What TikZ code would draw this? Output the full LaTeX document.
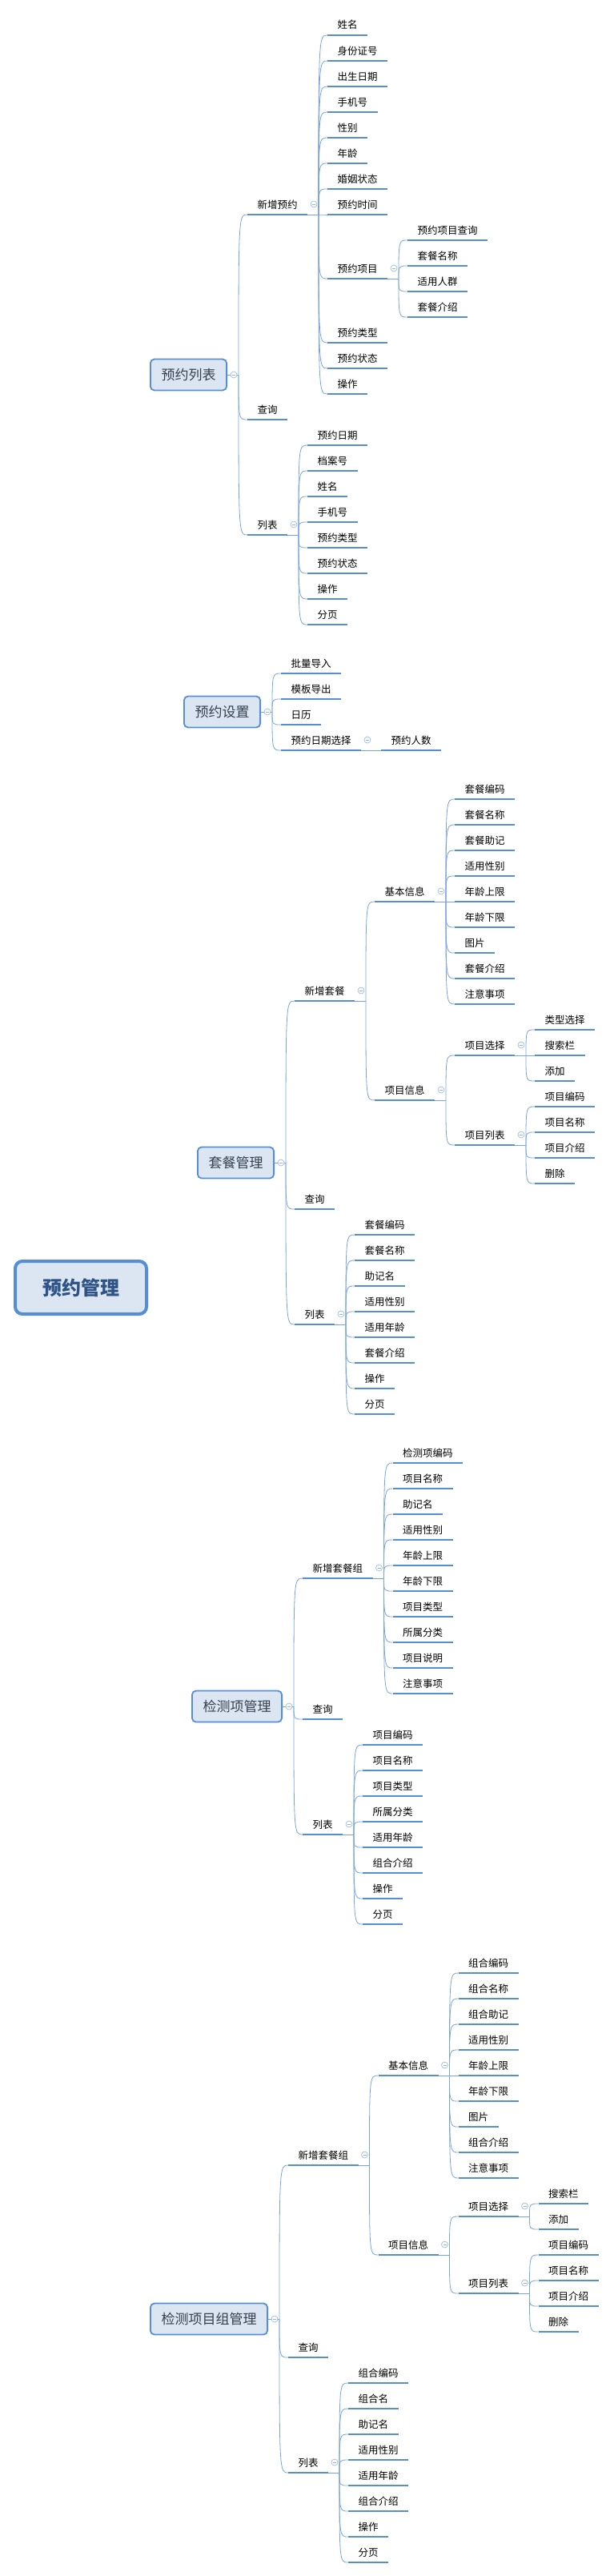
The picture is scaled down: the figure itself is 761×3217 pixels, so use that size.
\documentclass[tikz,border=0pt]{standalone}
\usepackage{fontspec}
\newfontfamily\cjk{Noto Sans CJK SC}
\usetikzlibrary{calc,backgrounds}

\definecolor{ublue}{HTML}{558ED5}
\definecolor{linkblue}{HTML}{79A4DA}
\definecolor{boxfill}{HTML}{DCE6F2}
\definecolor{rootblue}{HTML}{2E5386}
\definecolor{topictext}{HTML}{34404F}
\definecolor{foldblue}{HTML}{8FB4E3}

\tikzset{
  uline/.style = {draw=ublue, line width=2pt},
  conn/.style = {draw=linkblue, line width=0.8pt},
  trunk/.style = {draw=linkblue, line width=1.1pt},
  leaf/.style = {anchor=south west, font=\cjk\fontsize{12.5}{15}\selectfont,
    inner xsep=12.5pt, inner ysep=5pt, text height=10pt, text depth=3pt, outer sep=0pt,
    append after command={(\tikzlastnode.south west) edge[uline] (\tikzlastnode.south east)}},
  topicbox/.style = {anchor=west, draw=ublue, line width=1.8pt, fill=boxfill,
    rounded corners=5pt, font=\cjk\fontsize{17}{20}\selectfont, text=topictext,
    inner xsep=13.6pt, minimum height=39pt},
  centralbox/.style = {draw=ublue, line width=4pt, fill=boxfill, rounded corners=9pt,
    font=\cjk\bfseries\fontsize{24}{28}\selectfont, text=rootblue,
    minimum width=164pt, minimum height=66pt},
  foldmark/.style = {circle, draw=foldblue, fill=white, line width=0.6pt,
    minimum size=8pt, inner sep=0pt,
    path picture={\draw[foldblue, line width=0.6pt]
      ([xshift=2pt]path picture bounding box.west) -- ([xshift=-2pt]path picture bounding box.east);}}
}

% junction after an underlined item
\newcommand{\forkat}[1]{%
  \coordinate (#1j) at ($(#1.south east)+(14,0)$);
  \draw[conn] (#1.south east) -- (#1j);
  \node[foldmark] at ($(#1.south east)+(8,-13)$) {};}
% junction after a topic box
\newcommand{\forktopic}[1]{%
  \coordinate (#1j) at ($(#1.east)+(14,0)$);
  \draw[conn] (#1.east) -- (#1j);
  \node[foldmark] at ($(#1.east)+(8,0)$) {};}
\newcommand{\joinup}[2]{\draw[conn] (#1j) .. controls (#1j |- #2.south west) .. (#2.south west);}

\begin{document}
\begin{tikzpicture}[x=1pt, y=-1pt]
  \path[use as bounding box, fill=white] (0,0) rectangle (761,3217);

  \node[centralbox] (root) at (101,1608) {预约管理};

  \node[topicbox] (yylb) at (187,468) {预约列表};
  \node[topicbox] (yysz) at (229,889) {预约设置};
  \node[topicbox] (tcgl) at (246,1452) {套餐管理};
  \node[topicbox] (jcx) at (239,2131) {检测项管理};
  \node[topicbox] (jczh) at (187,2896) {检测项目组管理};

  \begin{scope}[on background layer]
    \draw[trunk] ([xshift=3pt]root.center) .. controls (106,900) and (165,468) .. (yylb.west);
    \draw[trunk] ([xshift=7pt]root.center) .. controls (112,1200) and (200,889) .. (yysz.west);
    \draw[trunk] ([xshift=14pt]root.center) .. controls (140,1530) and (185,1452) .. (tcgl.west);
    \draw[trunk] ([xshift=5pt]root.center) .. controls (115,1850) and (170,2131) .. (jcx.west);
    \draw[trunk] ([xshift=1pt]root.center) .. controls (104,2350) and (160,2896) .. (jczh.west);
  \end{scope}

  % 预约列表
  \forktopic{yylb}
  \node[leaf] (xzyy) at ($(yylb.east)+(25,-200)$) {新增预约}; \joinup{yylb}{xzyy}
  \node[leaf] (cx1) at ($(yylb.east)+(25,56)$) {查询}; \joinup{yylb}{cx1}
  \node[leaf] (lb1) at ($(yylb.east)+(25,200)$) {列表}; \joinup{yylb}{lb1}
  \forkat{xzyy}
  \foreach \t [count=\i from 0] in {姓名,身份证号,出生日期,手机号,性别,年龄,婚姻状态,预约时间}{
    \node[leaf] (xzyy-\i) at ($(xzyy.south east)+(25,-224+32*\i)$) {\t}; \joinup{xzyy}{xzyy-\i}
  }
  \node[leaf] (yyxm) at ($(xzyy.south east)+(25,80)$) {预约项目}; \joinup{xzyy}{yyxm}
  \foreach \t [count=\i from 0] in {预约类型,预约状态,操作}{
    \node[leaf] (xzyyb-\i) at ($(xzyy.south east)+(25,160+32*\i)$) {\t}; \joinup{xzyy}{xzyyb-\i}
  }
  \forkat{yyxm}
  \foreach \t [count=\i from 0] in {预约项目查询,套餐名称,适用人群,套餐介绍}{
    \node[leaf] (yyxm-\i) at ($(yyxm.south east)+(25,-48+32*\i)$) {\t}; \joinup{yyxm}{yyxm-\i}
  }
  \forkat{lb1}
  \foreach \t [count=\i from 0] in {预约日期,档案号,姓名,手机号,预约类型,预约状态,操作,分页}{
    \node[leaf] (lb1-\i) at ($(lb1.south east)+(25,-112+32*\i)$) {\t}; \joinup{lb1}{lb1-\i}
  }

  % 预约设置
  \forktopic{yysz}
  \foreach \t [count=\i from 0] in {批量导入,模板导出,日历}{
    \node[leaf] (yysz-\i) at ($(yysz.east)+(25,-48+32*\i)$) {\t}; \joinup{yysz}{yysz-\i}
  }
  \node[leaf] (rqxz) at ($(yysz.east)+(25,48)$) {预约日期选择}; \joinup{yysz}{rqxz}
  \forkat{rqxz}
  \node[leaf] (yyrs) at ($(rqxz.south east)+(25,0)$) {预约人数}; \joinup{rqxz}{yyrs}

  % 套餐管理
  \forktopic{tcgl}
  \node[leaf] (xztc) at ($(tcgl.east)+(25,-202)$) {新增套餐}; \joinup{tcgl}{xztc}
  \node[leaf] (cx2) at ($(tcgl.east)+(25,58)$) {查询}; \joinup{tcgl}{cx2}
  \node[leaf] (lb2) at ($(tcgl.east)+(25,202)$) {列表}; \joinup{tcgl}{lb2}
  \forkat{xztc}
  \node[leaf] (jbxx2) at ($(xztc.south east)+(25,-124)$) {基本信息}; \joinup{xztc}{jbxx2}
  \node[leaf] (xmxx2) at ($(xztc.south east)+(25,124)$) {项目信息}; \joinup{xztc}{xmxx2}
  \forkat{jbxx2}
  \foreach \t [count=\i from 0] in {套餐编码,套餐名称,套餐助记,适用性别,年龄上限,年龄下限,图片,套餐介绍,注意事项}{
    \node[leaf] (jbxx2-\i) at ($(jbxx2.south east)+(25,-128+32*\i)$) {\t}; \joinup{jbxx2}{jbxx2-\i}
  }
  \forkat{xmxx2}
  \node[leaf] (xmxz2) at ($(xmxx2.south east)+(25,-56)$) {项目选择}; \joinup{xmxx2}{xmxz2}
  \node[leaf] (xmlb2) at ($(xmxx2.south east)+(25,56)$) {项目列表}; \joinup{xmxx2}{xmlb2}
  \forkat{xmxz2}
  \foreach \t [count=\i from 0] in {类型选择,搜索栏,添加}{
    \node[leaf] (xmxz2-\i) at ($(xmxz2.south east)+(25,-32+32*\i)$) {\t}; \joinup{xmxz2}{xmxz2-\i}
  }
  \forkat{xmlb2}
  \foreach \t [count=\i from 0] in {项目编码,项目名称,项目介绍,删除}{
    \node[leaf] (xmlb2-\i) at ($(xmlb2.south east)+(25,-48+32*\i)$) {\t}; \joinup{xmlb2}{xmlb2-\i}
  }
  \forkat{lb2}
  \foreach \t [count=\i from 0] in {套餐编码,套餐名称,助记名,适用性别,适用年龄,套餐介绍,操作,分页}{
    \node[leaf] (lb2-\i) at ($(lb2.south east)+(25,-112+32*\i)$) {\t}; \joinup{lb2}{lb2-\i}
  }

  % 检测项管理
  \forktopic{jcx}
  \node[leaf] (xzzh3) at ($(jcx.east)+(25,-160)$) {新增套餐组}; \joinup{jcx}{xzzh3}
  \node[leaf] (cx3) at ($(jcx.east)+(25,16)$) {查询}; \joinup{jcx}{cx3}
  \node[leaf] (lb3) at ($(jcx.east)+(25,160)$) {列表}; \joinup{jcx}{lb3}
  \forkat{xzzh3}
  \foreach \t [count=\i from 0] in {检测项编码,项目名称,助记名,适用性别,年龄上限,年龄下限,项目类型,所属分类,项目说明,注意事项}{
    \node[leaf] (xzzh3-\i) at ($(xzzh3.south east)+(25,-144+32*\i)$) {\t}; \joinup{xzzh3}{xzzh3-\i}
  }
  \forkat{lb3}
  \foreach \t [count=\i from 0] in {项目编码,项目名称,项目类型,所属分类,适用年龄,组合介绍,操作,分页}{
    \node[leaf] (lb3-\i) at ($(lb3.south east)+(25,-112+32*\i)$) {\t}; \joinup{lb3}{lb3-\i}
  }

  % 检测项目组管理
  \forktopic{jczh}
  \node[leaf] (xzzh4) at ($(jczh.east)+(25,-192)$) {新增套餐组}; \joinup{jczh}{xzzh4}
  \node[leaf] (cx4) at ($(jczh.east)+(25,48)$) {查询}; \joinup{jczh}{cx4}
  \node[leaf] (lb4) at ($(jczh.east)+(25,192)$) {列表}; \joinup{jczh}{lb4}
  \forkat{xzzh4}
  \node[leaf] (jbxx4) at ($(xzzh4.south east)+(25,-112)$) {基本信息}; \joinup{xzzh4}{jbxx4}
  \node[leaf] (xmxx4) at ($(xzzh4.south east)+(25,112)$) {项目信息}; \joinup{xzzh4}{xmxx4}
  \forkat{jbxx4}
  \foreach \t [count=\i from 0] in {组合编码,组合名称,组合助记,适用性别,年龄上限,年龄下限,图片,组合介绍,注意事项}{
    \node[leaf] (jbxx4-\i) at ($(jbxx4.south east)+(25,-128+32*\i)$) {\t}; \joinup{jbxx4}{jbxx4-\i}
  }
  \forkat{xmxx4}
  \node[leaf] (xmxz4) at ($(xmxx4.south east)+(25,-48)$) {项目选择}; \joinup{xmxx4}{xmxz4}
  \node[leaf] (xmlb4) at ($(xmxx4.south east)+(25,48)$) {项目列表}; \joinup{xmxx4}{xmlb4}
  \forkat{xmxz4}
  \foreach \t [count=\i from 0] in {搜索栏,添加}{
    \node[leaf] (xmxz4-\i) at ($(xmxz4.south east)+(25,-16+32*\i)$) {\t}; \joinup{xmxz4}{xmxz4-\i}
  }
  \forkat{xmlb4}
  \foreach \t [count=\i from 0] in {项目编码,项目名称,项目介绍,删除}{
    \node[leaf] (xmlb4-\i) at ($(xmlb4.south east)+(25,-48+32*\i)$) {\t}; \joinup{xmlb4}{xmlb4-\i}
  }
  \forkat{lb4}
  \foreach \t [count=\i from 0] in {组合编码,组合名,助记名,适用性别,适用年龄,组合介绍,操作,分页}{
    \node[leaf] (lb4-\i) at ($(lb4.south east)+(25,-112+32*\i)$) {\t}; \joinup{lb4}{lb4-\i}
  }
\end{tikzpicture}
\end{document}
